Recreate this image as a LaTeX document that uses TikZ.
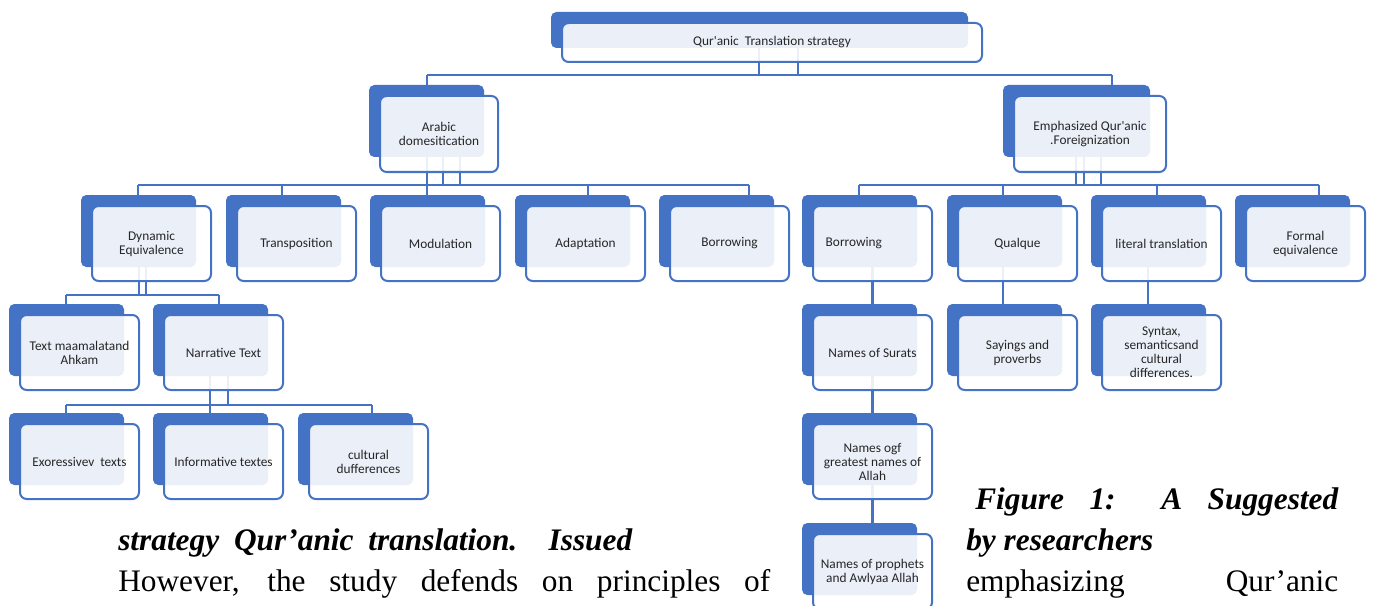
\documentclass[tikz,border=0pt]{standalone}
\usepackage{fontspec}
\setmainfont{Liberation Serif}
\newfontfamily\calib{Carlito}[Ligatures=TeXOff]
\definecolor{accblue}{HTML}{4472C4}
\pgfdeclarelayer{bg}
\pgfsetlayers{bg,main}
\tikzset{
 backbox/.style={fill=accblue, rounded corners=4pt},
 frontbox/.style={draw=accblue, line width=1.5pt, fill=white, fill opacity=0.89, rounded corners=5pt},
 lbl/.style={font=\calib\fontsize{10}{10.5}\selectfont, align=center, text=black!85, inner sep=0pt},
 conn/.style={draw=accblue, line width=1.6pt},
 body/.style={font=\fontsize{23.5}{26}\selectfont, anchor=base west, inner sep=0pt},
}
\newcommand{\qbox}[8]{%
 \fill[backbox] (#2,#3) rectangle ++(#4,#5);
 \path[frontbox] (#2+11,#3+11) rectangle ++(#6,#7);
 \node[lbl] (#1) at (#2+11+#6/2,#3+11+#7/2) {#8};
}
\begin{document}
\begin{tikzpicture}[x=0.75pt,y=-0.75pt]
\clip (0,0) rectangle (1373,606);

% boxes
\qbox{top}{551}{12}{417}{36}{420}{39}{Qur'anic\ \ Translation strategy}
\qbox{ar}{369}{85}{115}{72}{118}{76}{Arabic\\domesitication}
\qbox{em}{1003}{85}{147}{72}{152}{76}{Emphasized Qur'anic\\.Foreignization}

\qbox{dy}{81}{195}{115}{72}{119}{75}{Dynamic\\Equivalence}
\qbox{tr}{226}{195}{115}{72}{119}{75}{Transposition}
\qbox{mo}{370}{195}{115}{72}{119}{75}{Modulation}
\qbox{ad}{515}{195}{115}{72}{119}{75}{Adaptation}
\qbox{bo}{659}{195}{115}{72}{119}{75}{Borrowing}
\qbox{bor}{802}{195}{115}{72}{119}{75}{Borrowing\hspace*{28pt}}
\qbox{qu}{947}{195}{115}{72}{119}{75}{Qualque}
\qbox{li}{1091}{195}{115}{72}{119}{75}{literal translation}
\qbox{fo}{1235}{195}{115}{72}{119}{75}{Formal\\equivalence}

\qbox{tm}{9}{304}{115}{72}{119}{75}{Text maamalatand\\Ahkam}
\qbox{na}{153}{304}{115}{72}{119}{75}{Narrative Text}
\qbox{ns}{802}{304}{115}{72}{119}{75}{Names of Surats}
\qbox{sa}{947}{304}{115}{72}{119}{75}{Sayings and\\proverbs}
\qbox{sy}{1091}{304}{115}{72}{119}{75}{Syntax,\\semanticsand\\cultural\\differences.}

\qbox{ex}{9}{413}{115}{72}{119}{75}{Exoressivev\ \ texts}
\qbox{inf}{153}{413}{115}{72}{119}{75}{Informative textes}
\qbox{cu}{298}{413}{115}{72}{119}{75}{cultural\\dufferences}
\qbox{ng}{802}{413}{115}{72}{119}{75}{Names ogf\\greatest names of\\Allah}
\qbox{np}{802}{523}{115}{72}{119}{75}{Names of prophets\\and Awlyaa Allah}

% connectors
\begin{pgfonlayer}{bg}
\coordinate (topL) at (427,75);
\coordinate (topR) at (1112,75);
\draw[conn] (759,45) -- (759,75);
\draw[conn] (798,45) -- (798,75);
\draw[conn] (topL) -- (topR);
\draw[conn] (topL) -- (427,95);
\draw[conn] (topR) -- (1112,95);

\coordinate (arL) at (138,185);
\coordinate (arR) at (749,185);
\draw[conn] (427,130) -- (427,200);
\draw[conn] (443,150) -- (443,185);
\draw[conn] (460,150) -- (460,185);
\draw[conn] (arL) -- (arR);
\foreach \xx in {138,282,588,749} \draw[conn] (\xx,185) -- (\xx,205);

\coordinate (emL) at (859,185);
\coordinate (emR) at (1319,185);
\foreach \xx in {1076,1084,1101} \draw[conn] (\xx,150) -- (\xx,185);
\draw[conn] (emL) -- (emR);
\foreach \xx in {859,1003,1157,1319} \draw[conn] (\xx,185) -- (\xx,205);

\draw[conn] (139,250) -- (139,295);
\draw[conn] (146,250) -- (146,295);
\draw[conn] (66,295) -- (219,295);
\foreach \xx in {66,219} \draw[conn] (\xx,295) -- (\xx,312);

\draw[conn] (210,360) -- (210,405);
\draw[conn] (228,360) -- (228,405);
\draw[conn] (66,405) -- (372,405);
\foreach \xx in {66,210,372} \draw[conn] (\xx,405) -- (\xx,420);

\draw[conn] (bor) -- (ns);
\draw[conn] (ns) -- (ng);
\draw[conn] (ng) -- (np);
\draw[conn] (1003,250) -- (1003,312);
\draw[conn] (1148,250) -- (1148,312);
\end{pgfonlayer}

% body text
\node[body] (t1) at (118,550) {\makebox[385.5pt][s]{\bfseries\itshape strategy Qur’anic translation. Issued}};
\node[body] (t2) at (118,591) {\makebox[489pt][s]{However, the study defends on principles of}};
\node[body] (t3) at (975,509) {\makebox[272.25pt][s]{\bfseries\itshape Figure 1: A Suggested}};
\node[body] (t4) at (966,550) {\bfseries\itshape by researchers};
\node[body] (t5) at (966,591) {\makebox[279pt][s]{emphasizing Qur’anic}};
\end{tikzpicture}
\end{document}
